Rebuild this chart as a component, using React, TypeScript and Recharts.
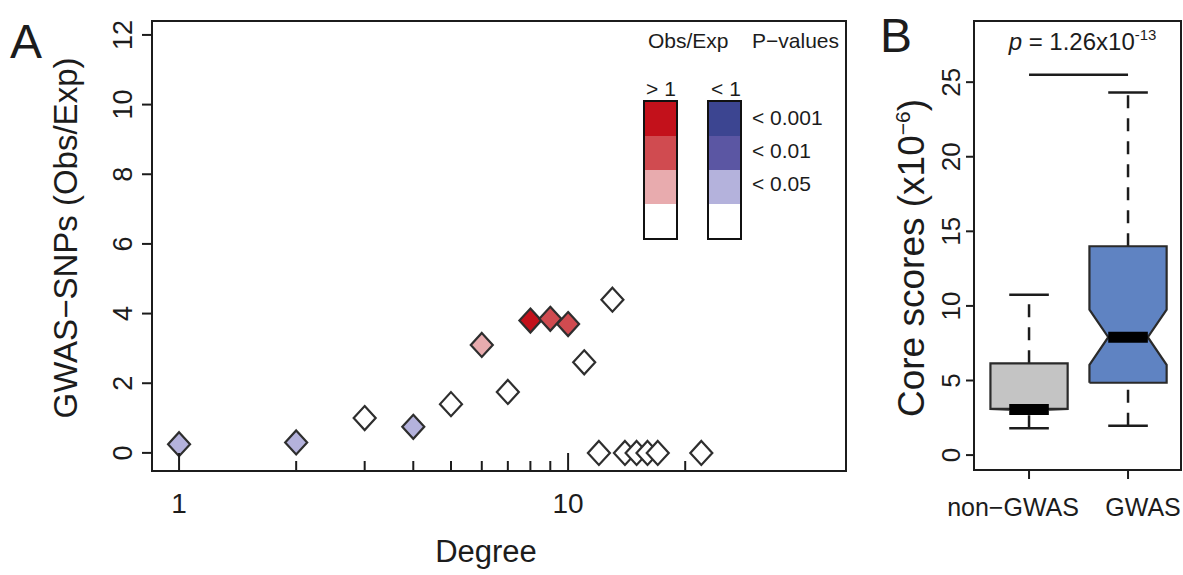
import React from 'react';
import { ScatterChart, ComposedChart, Scatter, XAxis, YAxis, ReferenceArea, ReferenceLine } from 'recharts';

const FONT = '"Liberation Sans", Arial, Helvetica, sans-serif';
const INK = '#1c1c1c';

// panel A: GWAS-SNP enrichment by degree
const degree = [1, 2, 3, 4, 5, 6, 7, 8, 9, 10, 11, 12, 13, 14, 15, 16, 17, 22];
const obsExp = [0.25, 0.3, 1.0, 0.75, 1.4, 3.1, 1.75, 3.8, 3.85, 3.7, 2.6, 0, 4.4, 0, 0, 0, 0, 0];
// up3/up2/up1 = Obs/Exp > 1 with p < 0.001 / 0.01 / 0.05, dn1 = < 1 with p < 0.05, ns = not significant
const signif = ['dn1', 'dn1', 'ns', 'dn1', 'ns', 'up1', 'ns', 'up3', 'up2', 'up2', 'ns', 'ns', 'ns', 'ns', 'ns', 'ns', 'ns', 'ns'];
const degreeTicks = [1, 2, 3, 4, 5, 6, 7, 8, 9, 10, 20];
const degreeLabels = [1, 10];
const obsExpTicks = [0, 2, 4, 6, 8, 10, 12];

const reds = ['#c3111b', '#d04b50', '#e8abae', '#ffffff'];
const blues = ['#3c4591', '#5b56a3', '#b4b2dc', '#ffffff'];
const pLabels = ['< 0.001', '< 0.01', '< 0.05'];
const signifColor: Record<string, string> = {
  up3: reds[0], up2: reds[1], up1: reds[2], dn1: blues[2], ns: '#ffffff',
};

// panel B: core scores (x10^-6)
const groups = ['non\u2212GWAS', 'GWAS'];
const groupFill = ['#c4c4c4', '#5f83c2'];
const whiskerLow = [1.8, 1.96];
const q1 = [3.1, 4.85];
const notchLow = [3.1, 6.05];
const median = [3.05, 7.9];
const notchHigh = [3.1, 9.75];
const q3 = [6.15, 14.0];
const whiskerHigh = [10.75, 24.3];
const coreTicks = [0, 5, 10, 15, 20, 25];
const pLineY = 25.5;

const pointsA = degree.map((d, i) => ({ x: d, y: obsExp[i], s: signif[i] }));

const Diamond = (props: any) => {
  const { cx, cy, payload } = props;
  const hw = 11, hh = 12;
  return (
    <polygon
      points={`${cx},${cy - hh} ${cx + hw},${cy} ${cx},${cy + hh} ${cx - hw},${cy}`}
      fill={signifColor[payload.s]}
      stroke="#2e2e2e"
      strokeWidth={2.2}
    />
  );
};

const DegreeTick = (props: any) => {
  const { x, y, payload } = props;
  const major = degreeLabels.includes(payload.value);
  return (
    <g>
      <line x1={x} x2={x} y1={y} y2={y - (major ? 18 : 10)} stroke={INK} strokeWidth={2} />
      {major && (
        <text x={x} y={y + 42} textAnchor="middle" fontSize={28} fontFamily={FONT} fill={INK}>
          {payload.value}
        </text>
      )}
    </g>
  );
};

const RotTick = (props: any) => {
  const { x, y, payload, len, gap, size } = props;
  const tx = x - gap;
  return (
    <g>
      <line x1={x} x2={x - len} y1={y} y2={y} stroke={INK} strokeWidth={2} />
      <text
        x={tx}
        y={y}
        transform={`rotate(-90 ${tx} ${y})`}
        textAnchor="middle"
        dominantBaseline="central"
        fontSize={size}
        fontFamily={FONT}
        fill={INK}
      >
        {payload.value}
      </text>
    </g>
  );
};

const labelShift = [-16, 15];
const GroupTick = (props: any) => {
  const { x, y, payload } = props;
  const i = payload.value - 1;
  return (
    <g>
      <line x1={x} x2={x} y1={y} y2={y + 9} stroke={INK} strokeWidth={2} />
      <text x={x + labelShift[i]} y={y + 46} textAnchor="middle" fontSize={25} fontFamily={FONT} fill={INK}>
        {groups[i]}
      </text>
    </g>
  );
};

function boxOutline(i: number) {
  const x = i + 1, hw = 0.39, nw = 0.2;
  return [
    { x: x - hw, y: q1[i] }, { x: x + hw, y: q1[i] }, { x: x + hw, y: notchLow[i] },
    { x: x + nw, y: median[i] }, { x: x + hw, y: notchHigh[i] }, { x: x + hw, y: q3[i] },
    { x: x - hw, y: q3[i] }, { x: x - hw, y: notchHigh[i] }, { x: x - nw, y: median[i] },
    { x: x - hw, y: notchLow[i] }, { x: x - hw, y: q1[i] },
  ];
}

const PLabel = (props: any) => {
  const { viewBox } = props;
  const cx = viewBox.x + viewBox.width / 2;
  return (
    <text x={cx + 4} y={viewBox.y - 25} textAnchor="middle" fontSize={24} fontFamily={FONT} fill={INK}>
      <tspan fontStyle="italic">p</tspan>
      <tspan> = 1.26x10</tspan>
      <tspan fontSize={15} dy={-10}>-13</tspan>
    </text>
  );
};

const abs = (left: number, top: number, extra: React.CSSProperties = {}): React.CSSProperties => ({
  position: 'absolute', left, top, fontFamily: FONT, color: INK, lineHeight: 1, whiteSpace: 'nowrap', ...extra,
});

function ColorBar({ left, colors }: { left: number; colors: string[] }) {
  return (
    <div style={{ position: 'absolute', left, top: 100, width: 31, border: '2px solid #111', background: '#fff' }}>
      {colors.map((c, i) => (
        <div key={i} style={{ height: 34, background: c }} />
      ))}
    </div>
  );
}

const hidden = () => <g />;

export default function App() {
  return (
    <div style={{ position: 'absolute', left: 0, top: 0, width: 1183, height: 575, background: '#fff', overflow: 'hidden' }}>
      {/* panel A */}
      <div style={{ position: 'absolute', left: 0, top: 0 }}>
        <ScatterChart width={860} height={575} margin={{ top: 21, right: 14, bottom: 44, left: 0 }}>
          <XAxis
            type="number"
            dataKey="x"
            scale="log"
            domain={[0.852, 51.8]}
            allowDataOverflow
            ticks={degreeTicks}
            interval={0}
            axisLine={false}
            tickLine={false}
            tickSize={0}
            tickMargin={0}
            height={60}
            tick={<DegreeTick />}
          />
          <YAxis
            type="number"
            dataKey="y"
            domain={[-0.52, 12.4]}
            allowDataOverflow
            ticks={obsExpTicks}
            interval={0}
            axisLine={false}
            tickLine={false}
            tickSize={0}
            tickMargin={0}
            width={152}
            tick={<RotTick len={10} gap={29} size={27} />}
          />
          <ReferenceArea x1={0.852} x2={51.8} y1={-0.52} y2={12.4} fill="none" stroke={INK} strokeWidth={2} ifOverflow="visible" />
          <Scatter data={pointsA} shape={<Diamond />} isAnimationActive={false} />
        </ScatterChart>
      </div>

      <div style={abs(10, 18, { fontSize: 48 })}>A</div>
      <div style={abs(65, 238, { fontSize: 33, transform: 'translate(-50%, -50%) rotate(-90deg)' })}>
        GWAS{'\u2212'}SNPs (Obs/Exp)
      </div>
      <div style={abs(486, 551, { fontSize: 31, transform: 'translate(-50%, -50%)' })}>Degree</div>

      {/* legend of panel A */}
      <div style={abs(648, 40, { fontSize: 21, transform: 'translateY(-50%)' })}>Obs/Exp</div>
      <div style={abs(752, 40, { fontSize: 21, transform: 'translateY(-50%)' })}>P{'\u2212'}values</div>
      <div style={abs(661, 88, { fontSize: 21, transform: 'translate(-50%, -50%)' })}>{'>'} 1</div>
      <div style={abs(726, 88, { fontSize: 21, transform: 'translate(-50%, -50%)' })}>{'<'} 1</div>
      <ColorBar left={643} colors={reds} />
      <ColorBar left={707} colors={blues} />
      {pLabels.map((t, i) => (
        <div key={t} style={abs(752, 117 + i * 33, { fontSize: 21, transform: 'translateY(-50%)' })}>{t}</div>
      ))}

      {/* panel B */}
      <div style={{ position: 'absolute', left: 880, top: 0 }}>
        <ComposedChart width={303} height={575} margin={{ top: 21, right: 2, bottom: 45, left: 0 }}>
          <XAxis
            type="number"
            dataKey="x"
            domain={[0.444, 2.535]}
            allowDataOverflow
            ticks={[1, 2]}
            interval={0}
            axisLine={false}
            tickLine={false}
            tickSize={0}
            tickMargin={0}
            height={60}
            tick={<GroupTick />}
          />
          <YAxis
            type="number"
            dataKey="y"
            domain={[-1.0, 29.1]}
            allowDataOverflow
            ticks={coreTicks}
            interval={0}
            axisLine={false}
            tickLine={false}
            tickSize={0}
            tickMargin={0}
            width={94}
            tick={<RotTick len={8} gap={23} size={26} />}
          />
          <ReferenceArea x1={0.444} x2={2.535} y1={-1.0} y2={29.1} fill="none" stroke={INK} strokeWidth={2} ifOverflow="visible" />
          {groups.map((g, i) => (
            <ReferenceLine
              key={`wh${g}`}
              segment={[{ x: i + 1, y: q3[i] }, { x: i + 1, y: whiskerHigh[i] }]}
              stroke={INK}
              strokeWidth={2.5}
              strokeDasharray="13 10"
            />
          ))}
          {groups.map((g, i) => (
            <ReferenceLine
              key={`wl${g}`}
              segment={[{ x: i + 1, y: whiskerLow[i] }, { x: i + 1, y: q1[i] }]}
              stroke={INK}
              strokeWidth={2.5}
              strokeDasharray="13 10"
            />
          ))}
          {groups.map((g, i) => (
            <ReferenceLine key={`sh${g}`} segment={[{ x: i + 0.8, y: whiskerHigh[i] }, { x: i + 1.2, y: whiskerHigh[i] }]} stroke={INK} strokeWidth={2.5} />
          ))}
          {groups.map((g, i) => (
            <ReferenceLine key={`sl${g}`} segment={[{ x: i + 0.8, y: whiskerLow[i] }, { x: i + 1.2, y: whiskerLow[i] }]} stroke={INK} strokeWidth={2.5} />
          ))}
          {groups.map((g, i) => (
            <Scatter
              key={`box${g}`}
              data={boxOutline(i)}
              shape={hidden}
              line={{ fill: groupFill[i], stroke: '#2a2a2a', strokeWidth: 2.2 }}
              lineType="joint"
              isAnimationActive={false}
            />
          ))}
          {groups.map((g, i) => (
            <Scatter
              key={`md${g}`}
              data={[{ x: i + 0.8, y: median[i] }, { x: i + 1.2, y: median[i] }]}
              shape={hidden}
              line={{ stroke: '#000', strokeWidth: 11 }}
              lineType="joint"
              isAnimationActive={false}
            />
          ))}
          <ReferenceLine segment={[{ x: 1, y: pLineY }, { x: 2, y: pLineY }]} stroke={INK} strokeWidth={2.5} label={<PLabel />} />
        </ComposedChart>
      </div>

      <div style={abs(880, 12, { fontSize: 48 })}>B</div>
      <div style={abs(911, 258, { fontSize: 37, transform: 'translate(-50%, -50%) rotate(-90deg)' })}>
        Core scores (x10<sup style={{ fontSize: 21, verticalAlign: 'super', lineHeight: 0 }}>{'\u2212'}6</sup>)
      </div>
    </div>
  );
}
